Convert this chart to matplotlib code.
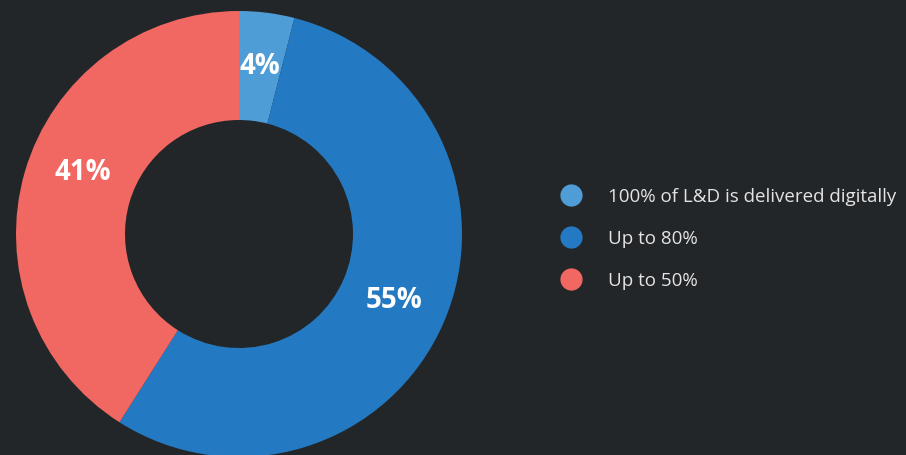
import matplotlib
matplotlib.use("Agg")
import matplotlib.pyplot as plt

categories = ["100% of L&D is delivered digitally", "Up to 80%", "Up to 50%"]
values = [4, 55, 41]
colors = ["#4f9dd6", "#237ac2", "#f16761"]
bg = "#232629"

W, H = 906, 455
fig = plt.figure(figsize=(W / 100, H / 100), dpi=100, facecolor=bg)
plt.rcParams['font.family'] = ['Open Sans', 'DejaVu Sans']

cx, cy, R, r_in = 239, 234, 223, 114
ax = fig.add_axes([(cx - R) / W, (H - cy - R) / H, 2 * R / W, 2 * R / H])
ax.set_facecolor(bg)
wedges, texts, autotexts = ax.pie(
    values, colors=colors, startangle=90, counterclock=False, radius=1,
    wedgeprops=dict(width=(R - r_in) / R, linewidth=0),
    autopct=lambda p: f"{p:.0f}%", pctdistance=(R + r_in) / 2 / R,
    textprops=dict(color="white", fontsize=20, fontweight="bold"))
# the reference places the 41% label a little higher than the slice midpoint
autotexts[2].set_position(((83 - cx) / R, (cy - 173) / R))
autotexts[0].set_position(((260 - cx) / R, (cy - 66) / R))
ax.set_xlim(-1, 1)
ax.set_ylim(-1, 1)
ax.set_aspect("equal")
ax.axis("off")

lax = fig.add_axes([0, 0, 1, 1])
lax.set_xlim(0, W)
lax.set_ylim(H, 0)
lax.axis("off")
lax.patch.set_alpha(0)
for i, (lab, col) in enumerate(zip(categories, colors)):
    y = 195 + 42 * i
    lax.scatter([571], [y], s=(16) ** 2, color=col, linewidths=0)
    lax.text(608, y + 7, lab, color="#e4e4e4", fontsize=13.5, va="baseline", ha="left")

fig.savefig("out.png", dpi=100, facecolor=bg)
